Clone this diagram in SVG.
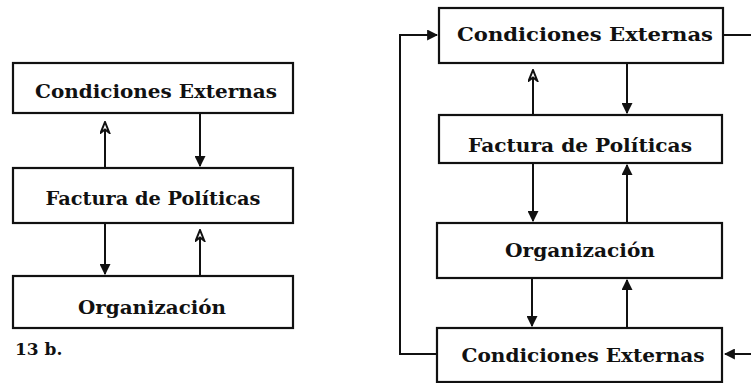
<svg xmlns="http://www.w3.org/2000/svg" width="751" height="383" viewBox="0 0 751 383">
<defs>
<marker id="af" viewBox="0 0 10 10" refX="9" refY="5" markerWidth="5.5" markerHeight="5.5" orient="auto" markerUnits="strokeWidth"><path d="M0,0 L10,5 L0,10 z" fill="#111"/></marker>
<marker id="ao" viewBox="0 0 12 10" refX="11" refY="5" markerWidth="6.5" markerHeight="5.5" orient="auto" markerUnits="strokeWidth"><path d="M1,1 L11,5 L1,9 L4,5 z" fill="#fff" stroke="#111" stroke-width="1.8"/></marker>
<style>
.box{fill:#fff;stroke:#111;stroke-width:2.2}
.t{font-family:"DejaVu Serif","Liberation Serif",serif;font-weight:bold;font-size:18px;fill:#111;text-anchor:middle}
.c{fill:none;stroke:#111;stroke-width:2}
</style>
</defs>
<rect width="751" height="383" fill="#fff"/>
<g id="connectors">
<line class="c" x1="105" y1="168" x2="105" y2="122" marker-end="url(#ao)"/>
<line class="c" x1="200" y1="113" x2="200" y2="166" marker-end="url(#af)"/>
<line class="c" x1="105" y1="223" x2="105" y2="274" marker-end="url(#af)"/>
<line class="c" x1="200" y1="276" x2="200" y2="230" marker-end="url(#ao)"/>
<line class="c" x1="533" y1="115" x2="533" y2="70" marker-end="url(#ao)"/>
<line class="c" x1="627" y1="63" x2="627" y2="113" marker-end="url(#af)"/>
<line class="c" x1="533" y1="163" x2="533" y2="221" marker-end="url(#af)"/>
<line class="c" x1="627" y1="223" x2="627" y2="165" marker-end="url(#af)"/>
<line class="c" x1="532" y1="278" x2="532" y2="326" marker-end="url(#af)"/>
<line class="c" x1="627" y1="328" x2="627" y2="280" marker-end="url(#af)"/>
<polyline class="c" points="437,354 400,354 400,35 437,35" marker-end="url(#af)"/>
<line class="c" x1="723" y1="35" x2="751" y2="35"/>
<line class="c" x1="751" y1="354" x2="725" y2="354" marker-end="url(#af)"/>
</g>
<g id="l1"><rect class="box" x="13" y="63" width="280" height="50"/><text class="t" x="156" y="98" textLength="242" lengthAdjust="spacingAndGlyphs">Condiciones Externas</text></g>
<g id="l2"><rect class="box" x="13" y="168" width="280" height="55"/><text class="t" x="153" y="205" textLength="215" lengthAdjust="spacingAndGlyphs">Factura de Políticas</text></g>
<g id="l3"><rect class="box" x="13" y="276" width="280" height="52"/><text class="t" x="152" y="314" textLength="148" lengthAdjust="spacingAndGlyphs">Organización</text></g>
<text x="15" y="355" style="font-family:'DejaVu Serif',serif;font-weight:bold;font-size:17px;fill:#111">13 b.</text>
<g id="r1"><rect class="box" x="439" y="8" width="284" height="55"/><text class="t" x="585" y="41" textLength="256" lengthAdjust="spacingAndGlyphs">Condiciones Externas</text></g>
<g id="r2"><rect class="box" x="439" y="115" width="283" height="48"/><text class="t" x="580" y="152" textLength="224" lengthAdjust="spacingAndGlyphs">Factura de Políticas</text></g>
<g id="r3"><rect class="box" x="437" y="223" width="285" height="55"/><text class="t" x="580" y="257" textLength="150" lengthAdjust="spacingAndGlyphs">Organización</text></g>
<g id="r4"><rect class="box" x="437" y="328" width="285" height="54"/><text class="t" x="583" y="362" textLength="243" lengthAdjust="spacingAndGlyphs">Condiciones Externas</text></g>
</svg>
